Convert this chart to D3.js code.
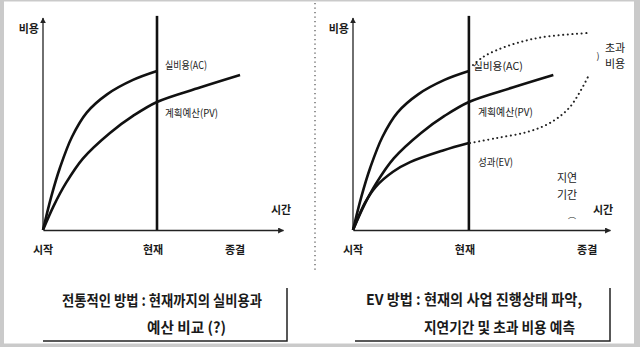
<!DOCTYPE html>
<html>
<head>
<meta charset="utf-8">
<script src="https://cdn.jsdelivr.net/npm/d3@7"></script>
<style>
  body { margin: 0; background: #fff; }
  text { font-family: "Noto Sans CJK KR", sans-serif; fill: #1a1a1a; }
</style>
</head>
<body>
<script>
// time runs 0..100 along the x-axis, cost 0..100 up the y-axis
const nowTime = 47.5;
const milestoneLabels = ['시작', '현재', '종결'];
const leftMilestones = [0, 47.5, 80];
const rightMilestones = [0, 47.5, 96];

// 실비용(AC) up to now
const acTime = [0, 3.5, 7.1, 12.1, 18.3, 26.7, 37.5, 47.5];
const acCost = [0, 16, 29.5, 44, 55.5, 64, 70.8, 75];

// 계획예산(PV), whole plan
const pvTime = [0, 4.5, 9.6, 16.7, 27.9, 37.5, 47.5, 65.4, 82.1];
const pvCost = [0, 11.5, 22.2, 33.8, 45.8, 53.8, 60.4, 67.2, 73.1];

// 성과(EV) up to now
const evTime = [0, 5, 9.4, 16.4, 23.4, 36.9, 47.5];
const evCost = [0, 13, 20.5, 27.5, 32, 37.5, 41];

// forecasts (dotted)
const acForecastTime = [49.2, 53.3, 59, 67.2, 77.9, 95.9];
const acForecastCost = [77.8, 81.6, 84.9, 88.2, 91, 92.9];
const evForecastTime = [48, 59, 71.3, 80.7, 88.9, 96.3];
const evForecastCost = [41, 43.4, 46.2, 50.5, 58, 72.2];

const width = 640;
const height = 347;

const svg = d3.select('body').append('svg')
  .attr('width', width)
  .attr('height', height);

svg.append('defs').append('marker')
  .attr('id', 'arrow')
  .attr('viewBox', '0 0 10 10')
  .attr('refX', 9).attr('refY', 5)
  .attr('markerWidth', 6).attr('markerHeight', 6)
  .attr('markerUnits', 'userSpaceOnUse')
  .attr('orient', 'auto')
  .append('path')
  .attr('d', 'M0,0L10,5L0,10Z')
  .attr('fill', '#222');

// grey frame round the picture
svg.append('rect').attr('width', width).attr('height', height).attr('fill', '#cacaca');
svg.append('rect').attr('x', 4).attr('y', 1.5).attr('width', 630).attr('height', 342).attr('fill', '#fff');

// dotted divider between the two panels
svg.append('line')
  .attr('x1', 315).attr('x2', 315).attr('y1', 3).attr('y2', 271)
  .attr('stroke', '#666').attr('stroke-width', 1.4)
  .attr('stroke-dasharray', '1.2 3.3');

const y = d3.scaleLinear().domain([0, 100]).range([230, 18]);

const zip = (xs, ys) => xs.map((t, i) => ({ t, c: ys[i] }));

function panel(x, axisEnd, milestones) {
  const g = svg.append('g');
  const line = d3.line().curve(d3.curveCatmullRom.alpha(0.5)).x(d => x(d.t)).y(d => y(d.c));

  // axes: plain lines with arrow heads
  g.append('g')
    .attr('transform', `translate(0,${y(0)})`)
    .call(d3.axisBottom(x.copy().domain([0, axisEnd]).range([x(0), x(axisEnd)])).tickValues([]).tickSizeOuter(0))
    .select('.domain')
    .attr('stroke', '#222').attr('stroke-width', 1.3)
    .attr('marker-end', 'url(#arrow)');

  g.append('g')
    .attr('transform', `translate(${x(0)},0)`)
    .call(d3.axisLeft(y).tickValues([]).tickSizeOuter(0))
    .select('.domain')
    .attr('stroke', '#222').attr('stroke-width', 1.3)
    .attr('marker-end', 'url(#arrow)')
    .attr('d', `M0,${y(0)}V${y(100)}`);

  // the "now" line
  g.append('line')
    .attr('x1', x(nowTime)).attr('x2', x(nowTime))
    .attr('y1', y(101)).attr('y2', y(0))
    .attr('stroke', '#111').attr('stroke-width', 2.6);

  g.append('text')
    .attr('x', x(0) - 4).attr('y', y(93))
    .attr('text-anchor', 'end').attr('font-size', 11).attr('font-weight', 'bold')
    .text('비용');

  g.selectAll('.milestone')
    .data(milestones)
    .join('text')
    .attr('class', 'milestone')
    .attr('x', (d, i) => x(d) + (i === 1 ? -4 : 0))
    .attr('y', y(0) + 24)
    .attr('text-anchor', 'middle').attr('font-size', 11).attr('font-weight', 'bold')
    .text((d, i) => milestoneLabels[i]);

  return { g, line };
}

const leftX = d3.scaleLinear().domain([0, 100]).range([43, 283]);
const rightX = d3.scaleLinear().domain([0, 100]).range([353, 597]);

// ---- left: traditional method
const L = panel(leftX, 100, leftMilestones);
[zip(acTime, acCost), zip(pvTime, pvCost)].forEach(d => {
  L.g.append('path').datum(d)
    .attr('fill', 'none').attr('stroke', '#111').attr('stroke-width', 2.6)
    .attr('d', L.line);
});
L.g.append('text').attr('x', leftX(100) - 12).attr('y', y(0) - 16)
  .attr('font-size', 11).attr('font-weight', 'bold').text('시간');
L.g.append('text').attr('x', leftX(nowTime) + 8).attr('y', y(75) - 2)
  .attr('font-size', 10.5).attr('textLength', 42).attr('lengthAdjust', 'spacingAndGlyphs').text('실비용(AC)');
L.g.append('text').attr('x', leftX(nowTime) + 8).attr('y', y(60.4) + 15)
  .attr('font-size', 10.5).attr('textLength', 53).attr('lengthAdjust', 'spacingAndGlyphs').text('계획예산(PV)');

// ---- right: EV method
const R = panel(rightX, 105.3, rightMilestones);
[zip(acTime, acCost), zip(pvTime, pvCost), zip(evTime, evCost)].forEach(d => {
  R.g.append('path').datum(d)
    .attr('fill', 'none').attr('stroke', '#111').attr('stroke-width', 2.6)
    .attr('d', R.line);
});
[zip(acForecastTime, acForecastCost), zip(evForecastTime, evForecastCost)].forEach(d => {
  R.g.append('path').datum(d)
    .attr('fill', 'none').attr('stroke', '#222').attr('stroke-width', 2)
    .attr('stroke-linecap', 'round').attr('stroke-dasharray', '0.1 4.5')
    .attr('d', R.line);
});
R.g.append('text').attr('x', rightX(105.3) - 17).attr('y', y(0) - 16)
  .attr('font-size', 11).attr('font-weight', 'bold').text('시간');
R.g.append('text').attr('x', rightX(nowTime) + 4).attr('y', y(75) - 1)
  .attr('font-size', 10.5).attr('textLength', 50).attr('lengthAdjust', 'spacingAndGlyphs').text('실비용(AC)');
R.g.append('text').attr('x', rightX(nowTime) + 9).attr('y', y(60.4) + 14)
  .attr('font-size', 10.5).attr('textLength', 55).attr('lengthAdjust', 'spacingAndGlyphs').text('계획예산(PV)');
R.g.append('text').attr('x', rightX(nowTime) + 9).attr('y', y(41) + 23)
  .attr('font-size', 10.5).attr('textLength', 35).attr('lengthAdjust', 'spacingAndGlyphs').text('성과(EV)');

// 초과 비용 / 지연 기간 notes
const note = (x, yy, s, size, w) => svg.append('text')
  .attr('x', x).attr('y', yy).attr('text-anchor', 'middle')
  .attr('font-size', size).attr('font-weight', w || 'normal').text(s);
note(615, 52, '초과', 11);
note(615, 68, '비용', 11);
note(598, 59, ')', 9);
note(567, 182, '지연', 11);
note(567, 199, '기간', 11);
note(572, 224, '⌒', 8);

// bottom caption boxes
svg.append('path').attr('d', 'M43,341H287V288')
  .attr('fill', 'none').attr('stroke', '#222').attr('stroke-width', 1.5);
svg.append('path').attr('d', 'M355,341H610V288')
  .attr('fill', 'none').attr('stroke', '#222').attr('stroke-width', 1.5);

const caption = (x, yy, s, w) => svg.append('text')
  .attr('x', x).attr('y', yy)
  .attr('font-size', 15).attr('font-weight', 'bold')
  .attr('textLength', w).attr('lengthAdjust', 'spacingAndGlyphs')
  .text(s);
caption(62, 306, '전통적인 방법 : 현재까지의 실비용과', 200);
caption(147, 333, '예산 비교 (?)', 79);
caption(366, 305, 'EV 방법 :  현재의 사업 진행상태 파악,', 216);
caption(424, 333, '지연기간 및 초과 비용 예측', 151);
</script>
</body>
</html>
